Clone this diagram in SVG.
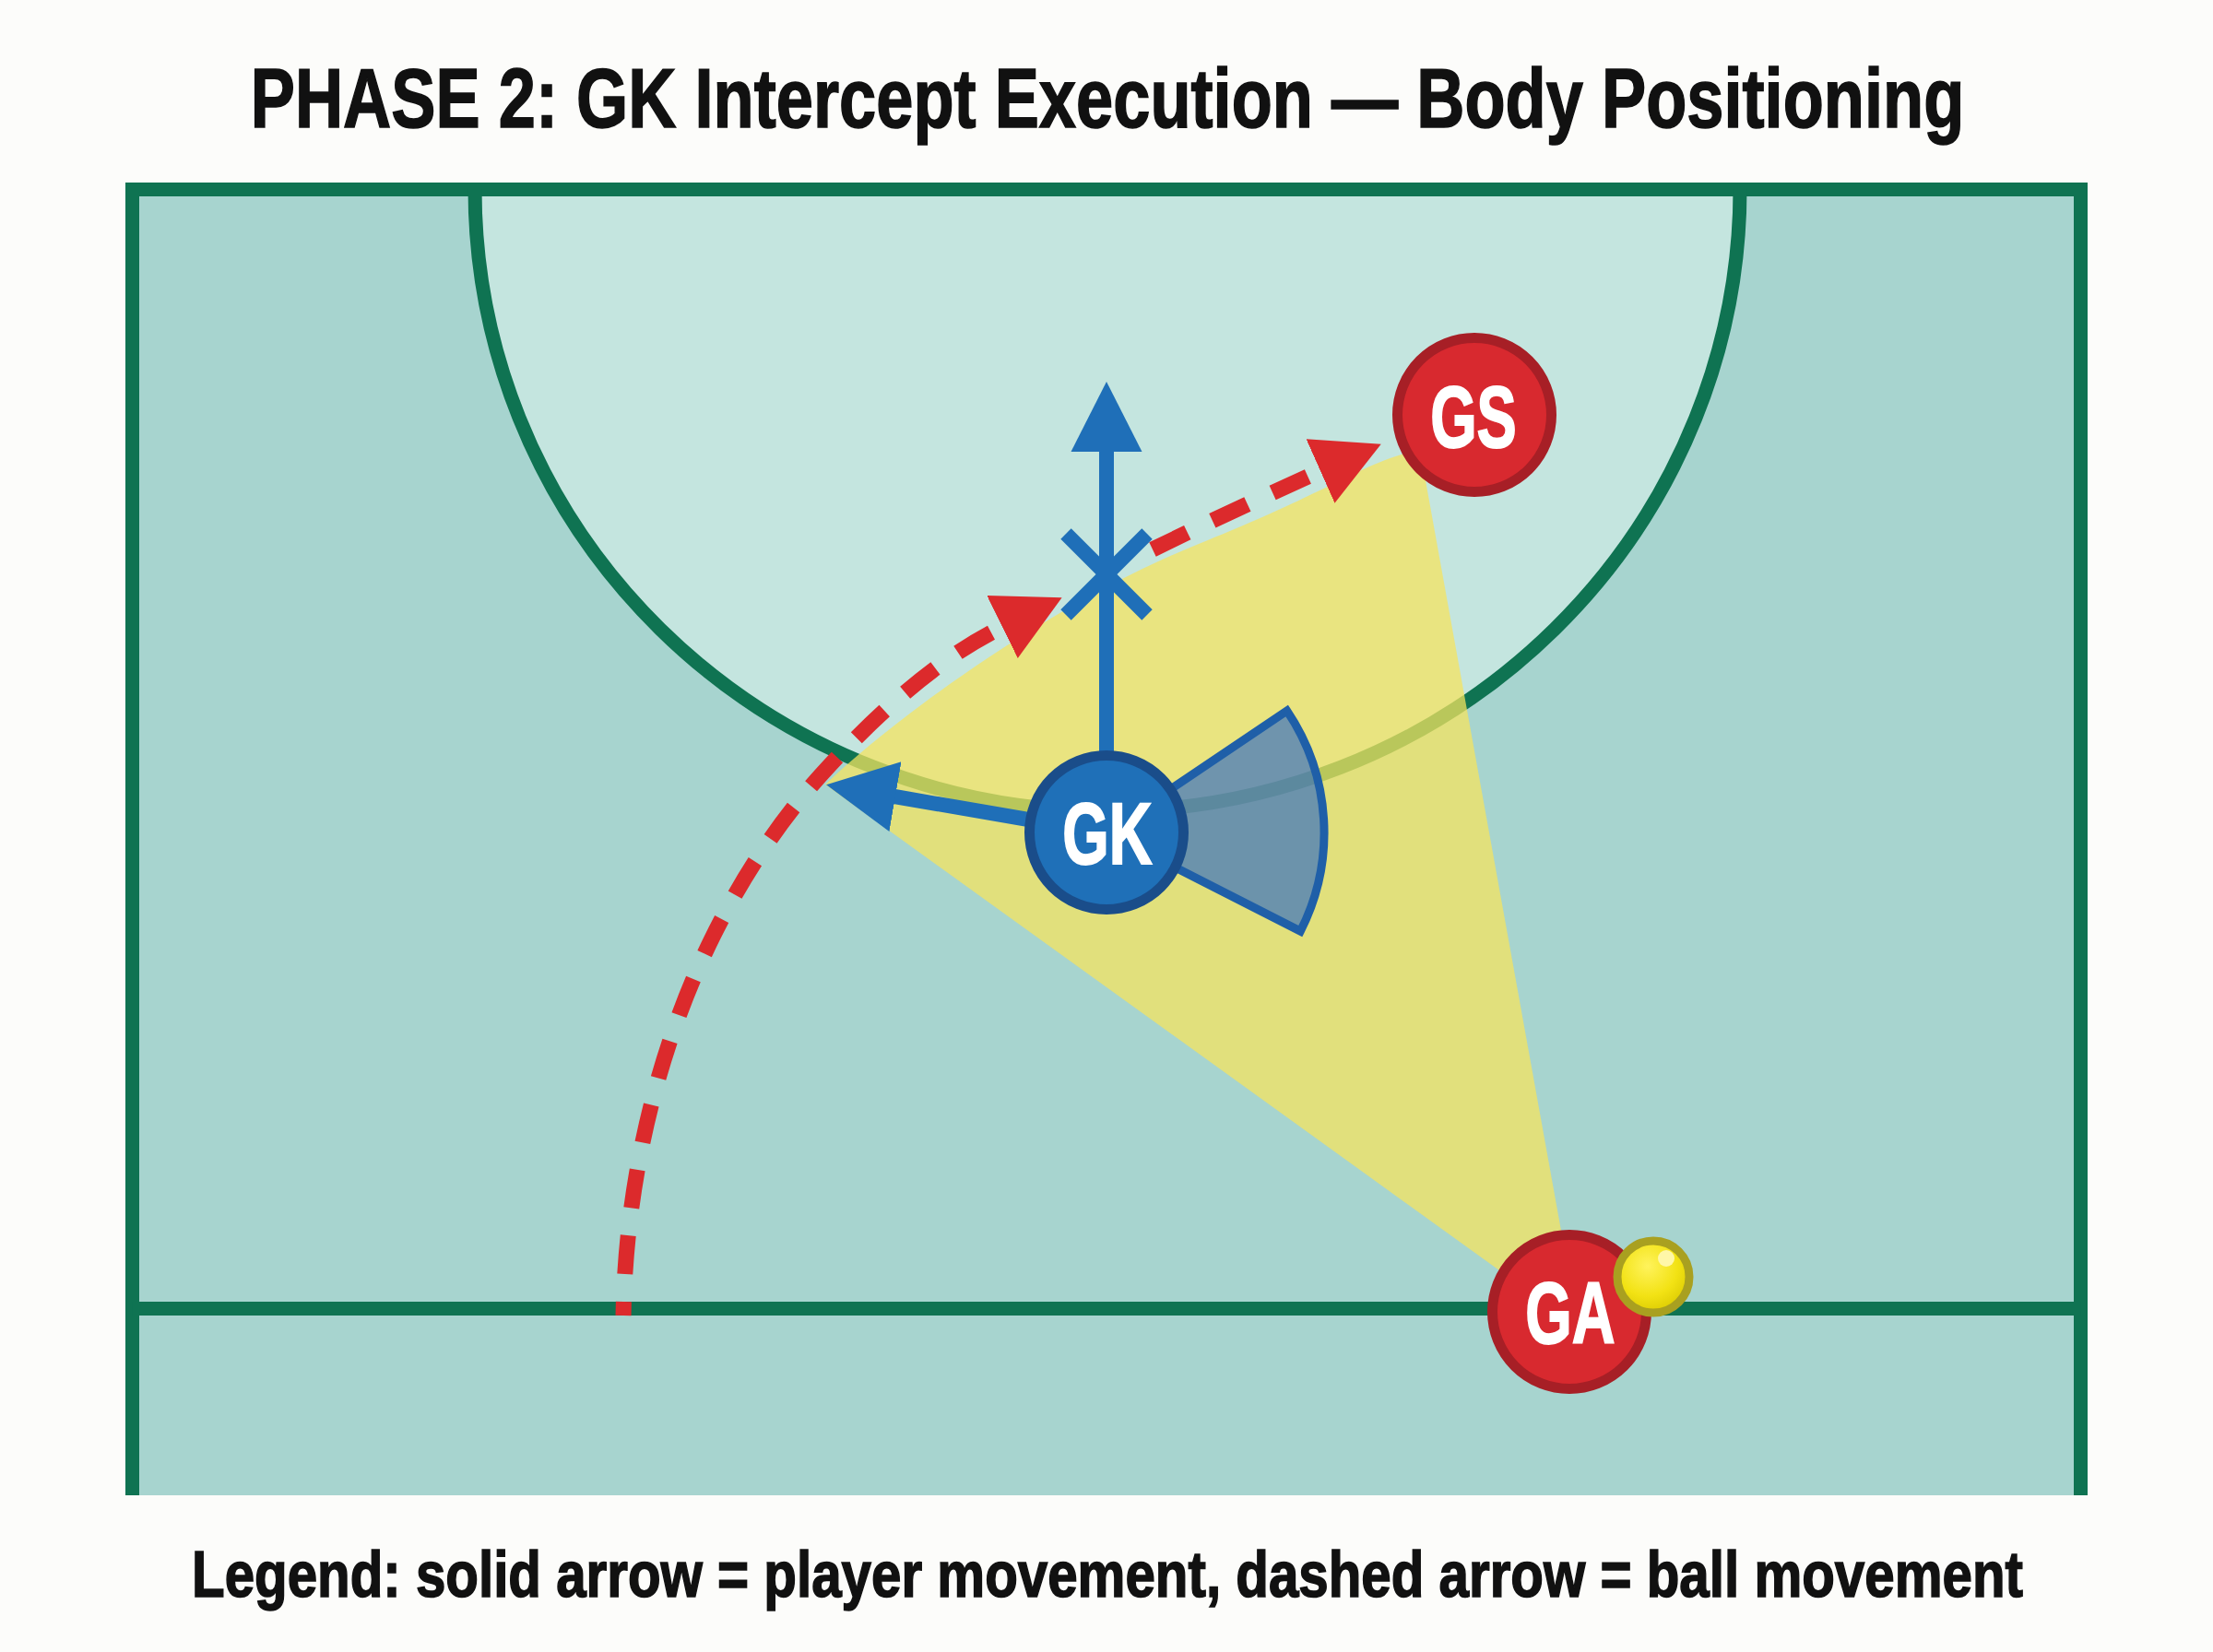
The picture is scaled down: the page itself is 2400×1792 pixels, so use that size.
<svg xmlns="http://www.w3.org/2000/svg" width="2400" height="1792" viewBox="0 0 2400 1792">
  <style>
    .title { font-family: 'Liberation Sans', Arial, sans-serif; font-weight: bold; fill: #111111; stroke: #111111; stroke-width: 1.6px; text-anchor: middle; }
    .lbl { font-family: 'Liberation Sans', Arial, sans-serif; font-weight: bold; fill: #ffffff; stroke: #ffffff; stroke-width: 2px; font-size: 94px; text-anchor: middle; }
    .line { fill: none; stroke: #0f7352; stroke-width: 15; }
    .red-node { fill: #d8292f; stroke: #a71f26; stroke-width: 11; }
    .blue-node { fill: #1f70b8; stroke: #1a4d8a; stroke-width: 11; }
    .move { fill: none; stroke: #1f6fb8; stroke-width: 16; }
    .pass { fill: none; stroke: #dc2a2c; stroke-width: 17; stroke-dasharray: 42 30; }
  </style>
  <defs>
    <marker id="ah-blue" markerUnits="userSpaceOnUse" markerWidth="80" markerHeight="80" viewBox="0 -40 80 80" refX="1" refY="0" orient="auto">
      <path d="M0,-38.5 L76,0 L0,38.5 z" fill="#1f6fb8"/>
    </marker>
    <marker id="ah-red" markerUnits="userSpaceOnUse" markerWidth="80" markerHeight="80" viewBox="0 -40 80 80" refX="0" refY="0" orient="auto">
      <path d="M0,-38 L72,0 L0,38 z" fill="#dc2a2c"/>
    </marker>
    <radialGradient id="ballg" cx="0.42" cy="0.35" r="0.7">
      <stop offset="0" stop-color="#fff35c"/>
      <stop offset="0.6" stop-color="#f2e214"/>
      <stop offset="1" stop-color="#d9c800"/>
    </radialGradient>
  </defs>

  <rect x="0" y="0" width="2400" height="1792" fill="#fcfcfa"/>

  <text class="title" transform="translate(1201,138) scale(0.794,1)" x="0" y="0" font-size="91">PHASE 2: GK Intercept Execution — Body Positioning</text>

  <g id="court">
    <rect x="136" y="198" width="2128" height="1424" fill="#a7d4cf"/>
    <path d="M 515 205 A 686 675 0 0 0 1887 205 Z" fill="#c4e5df"/>
    <path class="line" d="M 143.5 1622 L 143.5 205.5 L 2256.5 205.5 L 2256.5 1622"/>
    <path class="line" d="M 515 205 A 686 675 0 0 0 1887 205"/>
    <line class="line" x1="143.5" y1="1419.5" x2="2256.5" y2="1419.5"/>
  </g>

  <g id="intercept-zone">
    <path d="M 895 851 C 980 770, 1150 650, 1300 590 S 1480 500 1540 488 L 1712 1440 Z" fill="#f6e45e" fill-opacity="0.74"/>
  </g>

  <g id="vision-cone">
    <path d="M 1200 903 L 1395.7 771 A 236 236 0 0 1 1410.3 1010.1 Z" fill="#1e5fcc" fill-opacity="0.6" stroke="#1f5fa8" stroke-width="9" stroke-linejoin="miter"/>
  </g>

  <g id="connectors">
    <path class="pass" stroke-dashoffset="27" d="M 676 1427 C 680 1200, 760 980, 900 830 C 970 755, 1030 708, 1087 680" marker-end="url(#ah-red)"/>
    <path class="pass" d="M 1250 596 Q 1340 552 1432 511" marker-end="url(#ah-red)"/>
    <line class="move" x1="1200" y1="815" x2="1200" y2="489" marker-end="url(#ah-blue)"/>
    <line class="move" x1="1150" y1="895" x2="970" y2="864" marker-end="url(#ah-blue)"/>
    <g id="intercept-mark">
      <line class="move" x1="1156" y1="579" x2="1244" y2="667"/>
      <line class="move" x1="1244" y1="579" x2="1156" y2="667"/>
    </g>
  </g>

  <g id="node-GK">
    <circle class="blue-node" cx="1200" cy="903" r="83.5"/>
    <text class="lbl" transform="translate(1201,937) scale(0.69,1)" x="0" y="0">GK</text>
  </g>

  <g id="node-GS">
    <circle class="red-node" cx="1599" cy="450" r="83.5"/>
    <text class="lbl" transform="translate(1598,485) scale(0.69,1)" x="0" y="0">GS</text>
  </g>

  <g id="node-GA">
    <circle class="red-node" cx="1702" cy="1423" r="83.5"/>
    <text class="lbl" transform="translate(1703,1457) scale(0.69,1)" x="0" y="0">GA</text>
  </g>

  <g id="ball">
    <circle cx="1793" cy="1385" r="39" fill="url(#ballg)" stroke="#a9a020" stroke-width="9"/>
    <circle cx="1807" cy="1365" r="9" fill="#fff7a8"/>
  </g>

  <text class="title" transform="translate(1201,1732) scale(0.833,1)" x="0" y="0" font-size="70">Legend: solid arrow = player movement, dashed arrow = ball movement</text>
</svg>
